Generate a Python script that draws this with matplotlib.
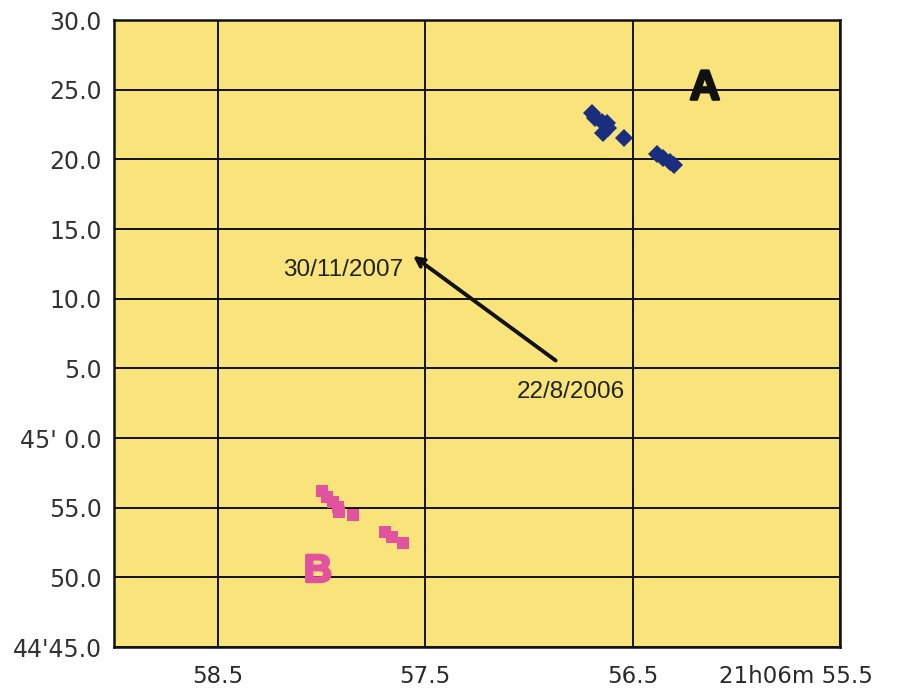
import matplotlib
matplotlib.use("Agg")
import matplotlib.pyplot as plt
import matplotlib.patheffects as pe

# Data (RA seconds, Dec arcsec offset from 45'00")
a_x = [56.696, 56.682, 56.648, 56.624, 56.619, 56.643, 56.542, 56.383, 56.354, 56.320, 56.300]
a_y = [23.32, 22.96, 22.68, 22.61, 22.25, 21.89, 21.53, 20.39, 20.09, 19.81, 19.59]
b_x = [57.998, 57.974, 57.945, 57.921, 57.917, 57.849, 57.694, 57.661, 57.608]
b_y = [-3.81, -4.24, -4.60, -4.96, -5.32, -5.53, -6.75, -7.11, -7.55]

x_ticks = [58.5, 57.5, 56.5, 55.5]
x_labels = ["58.5", "57.5", "56.5", ""]
x_last_label = "21h06m 55.5"
y_ticks = [30, 25, 20, 15, 10, 5, 0, -5, -10, -15]
y_labels = ["30.0", "25.0", "20.0", "15.0", "10.0", "5.0", "45' 0.0", "55.0", "50.0", "44'45.0"]

arrow_tail = (56.86, 5.45)
arrow_head = (57.57, 13.2)
date_start = "22/8/2006"
date_end = "30/11/2007"

fig = plt.figure(figsize=(9.01, 6.95), dpi=100)
ax = fig.add_axes([0.127, 0.069, 0.805, 0.902])
ax.set_facecolor("#f9e47c")
ax.set_xlim(59.0, 55.5)
ax.set_ylim(-15, 30)

ax.set_xticks(x_ticks)
ax.set_xticklabels(x_labels, fontsize=16.5, family="DejaVu Sans", color="#2a2a2a")
ax.set_yticks(y_ticks)
ax.set_yticklabels(y_labels, fontsize=17, family="DejaVu Sans", color="#333333")
ax.tick_params(axis="both", length=0)
ax.tick_params(axis="y", pad=9)
ax.tick_params(axis="x", pad=13)
ax.grid(True, color="#111111", linewidth=1.4)
ax.set_axisbelow(True)
for s in ax.spines.values():
    s.set_linewidth(1.8)
    s.set_color("#111111")

ax.annotate(x_last_label, xy=(55.5, 0), xycoords=("data", "axes fraction"),
            xytext=(33, -18), textcoords="offset pixels", ha="right", va="top",
            fontsize=16.5, family="DejaVu Sans", color="#2a2a2a", annotation_clip=False)

ax.plot(a_x, a_y, linestyle="none", marker="D", markersize=9.5, color="#1b2d7e",
        markeredgewidth=0, zorder=3)
ax.plot(b_x, b_y, linestyle="none", marker="s", markersize=8.5, color="#e2529f",
        markeredgewidth=0, zorder=3)

ax.annotate("", xy=arrow_head, xytext=arrow_tail,
            arrowprops=dict(arrowstyle="->,head_length=0.6,head_width=0.3", lw=2.8, color="#111111"),
            zorder=4)
ax.text(57.608, 12.05, date_end, ha="right", va="center", fontsize=17.5,
        family="Liberation Sans", color="#222222")
ax.text(57.058, 3.3, date_start, ha="left", va="center", fontsize=17.5,
        family="Liberation Sans", color="#222222")

ax.text(56.151, 25.1, "A", ha="center", va="center", fontsize=30, fontweight="bold",
        family="Liberation Sans", color="#111111",
        path_effects=[pe.withStroke(linewidth=2, foreground="#111111")])
ax.text(58.018, -9.6, "B", ha="center", va="center", fontsize=28, fontweight="bold",
        family="Liberation Sans", color="#e2529f",
        path_effects=[pe.withStroke(linewidth=2, foreground="#e2529f")])

fig.savefig("out.png", dpi=100, facecolor="white")
